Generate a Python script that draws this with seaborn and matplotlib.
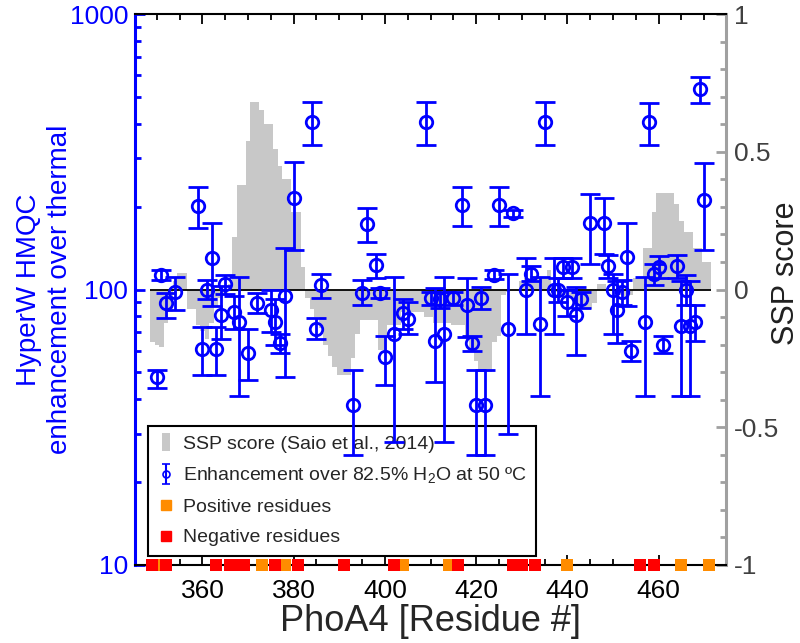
import numpy as np
import matplotlib
matplotlib.use('Agg')
import matplotlib.pyplot as plt
import seaborn as sns
from matplotlib.lines import Line2D
from matplotlib.ticker import MultipleLocator, FixedLocator, NullFormatter

sns.set_theme(style='white')
plt.rcParams['font.family'] = ['Liberation Sans', 'DejaVu Sans']
plt.rcParams['mathtext.fontset'] = 'custom'
plt.rcParams['mathtext.rm'] = 'Liberation Sans'

# SSP score per residue (Saio et al., 2014), residues 349..471
ssp_res = list(range(349, 472))
ssp_score = [
    -0.19, -0.20, -0.21, -0.12, -0.08, 0.03, 0.06, 0.06, -0.07, -0.07,   # 349-358
    -0.13, -0.15, -0.18, -0.12, -0.06, -0.03, -0.02, 0.02, 0.19, 0.38,   # 359-368
    0.38, 0.54, 0.68, 0.68, 0.65, 0.60, 0.60, 0.51, 0.45, 0.40,          # 369-378
    0.40, 0.28, 0.28, 0.08, -0.03, -0.07, -0.10, -0.14, -0.20, -0.24,    # 379-388
    -0.28, -0.31, -0.31, -0.31, -0.25, -0.16, -0.11, -0.11, -0.11, -0.11,  # 389-398
    -0.22, -0.22, -0.13, -0.13, -0.13, -0.08, -0.08, -0.08, -0.08, -0.08,  # 399-408
    -0.10, -0.10, -0.12, -0.12, -0.12, -0.12, -0.13, -0.13, -0.13, -0.18,  # 409-418
    -0.22, -0.26, -0.29, -0.30, -0.30, -0.19, -0.17, -0.02, -0.01, 0.00,   # 419-428
    0.00, 0.03, 0.04, 0.04, 0.04, 0.04, 0.04, 0.07, 0.02, -0.01,          # 429-438
    -0.02, -0.02, -0.03, -0.06, -0.07, -0.07, -0.07, -0.05, 0.02, 0.02,   # 439-448
    0.00, 0.00, -0.02, -0.02, -0.03, -0.02, 0.04, 0.04, 0.15, 0.15,       # 449-458
    0.28, 0.35, 0.35, 0.35, 0.35, 0.31, 0.25, 0.21, 0.21, 0.15,           # 459-468
    0.15, 0.10, 0.10,                                                    # 469-471
]

# HyperW HMQC enhancement over thermal (value, lower end, upper end of error bar)
enh_res = [350, 351, 352, 354, 359, 360, 361, 362, 363, 364, 365, 367, 368, 370,
           372, 375, 376, 377, 378, 380, 384, 385, 386, 393, 395, 396, 398, 399,
           400, 402, 404, 405, 409, 410, 411, 412, 413, 415, 417, 418, 419, 420,
           421, 422, 424, 425, 427, 428, 431, 432, 434, 435, 437, 438, 439, 440,
           441, 442, 443, 445, 448, 449, 450, 451, 452, 453, 454, 457, 458, 459,
           460, 461, 464, 465, 466, 467, 468, 469, 470]
enh_val = [48, 113, 89, 98, 201, 61, 100, 130, 61, 81, 105, 83, 76, 59,
           89, 84, 76, 64, 95, 214, 406, 72, 104, 38, 97, 173, 123, 97,
           57, 69, 82, 78, 406, 93, 65, 92, 69, 93, 203, 88, 64, 38,
           93, 38, 113, 203, 72, 189, 100, 114, 75, 406, 100, 100, 121, 90,
           121, 81, 92, 174, 174, 122, 100, 84, 98, 131, 60, 76, 406, 114,
           121, 63, 122, 74, 100, 74, 76, 533, 212]
enh_lo = [44, 108, 79, 84, 167, 49, 92, 87, 49, 66, 96, 72, 41, 47,
          82, 70, 63, 59, 48, 139, 334, 66, 93, 25, 88, 149, 110, 93,
          45, 28, 72, 69, 334, 88, 46, 86, 28, 88, 170, 67, 60, 25,
          85, 25, 109, 170, 30, 183, 69, 107, 41, 334, 69, 90, 110, 80,
          110, 58, 86, 124, 134, 110, 69, 64, 88, 87, 55, 41, 334, 104,
          110, 59, 110, 41, 88, 41, 65, 476, 139]
enh_hi = [51, 118, 97, 111, 236, 73, 108, 174, 73, 103, 113, 95, 111, 72,
          97, 100, 92, 69, 141, 291, 481, 79, 114, 51, 108, 197, 135, 101,
          68, 111, 92, 90, 481, 98, 101, 98, 111, 98, 236, 110, 68, 51,
          102, 51, 118, 236, 114, 195, 130, 122, 111, 481, 130, 110, 130, 100,
          130, 102, 98, 222, 214, 133, 114, 107, 108, 174, 65, 111, 476, 124,
          132, 68, 133, 107, 113, 107, 88, 589, 288]

# charged residues along the sequence
positive_res = [351, 373, 378, 404, 414, 440, 465, 471]
negative_res = [349, 352, 363, 366, 367, 368, 369, 376, 381, 391, 402, 416,
                428, 430, 433, 456, 459]

blue = '#0000FF'
grey = '#C8C8C8'
orange = '#FF8C00'
red = '#FF0000'

fig = plt.figure(figsize=(8, 6.43), dpi=100)
ax1 = fig.add_axes([135 / 800, 1 - 565 / 643, 591 / 800, 551 / 643])
ax2 = ax1.twinx()
ax1.set_zorder(ax2.get_zorder() + 1)
ax1.patch.set_visible(False)

# SSP score as a filled staircase on the right axis
edges = np.arange(ssp_res[0] - 0.5, ssp_res[-1] + 1.0, 1.0)
ax2.stairs(ssp_score, edges, baseline=0, fill=True, color=grey, lw=0)
ax2.hlines(0, edges[0], edges[-1], color='black', lw=1.3)
ax2.set_ylim(-1, 1)

# enhancement with error bars on the left (log) axis
enh_val_a = np.array(enh_val, dtype=float)
yerr = [enh_val_a - np.array(enh_lo), np.array(enh_hi) - enh_val_a]
ax1.errorbar(enh_res, enh_val_a, yerr=yerr, fmt='o', mfc='none', mec=blue,
             ms=9, mew=2, ecolor=blue, elinewidth=2, capsize=7, capthick=2,
             zorder=3)
ax1.set_yscale('log')
ax1.set_ylim(10, 1000)
ax1.set_xlim(345.2, 474.8)

# residue markers along the bottom axis
sns.scatterplot(x=positive_res, y=[10] * len(positive_res), color=orange,
                marker='s', s=80, linewidth=0, ax=ax1, clip_on=False, zorder=6)
sns.scatterplot(x=negative_res, y=[10] * len(negative_res), color=red,
                marker='s', s=80, linewidth=0, ax=ax1, clip_on=False, zorder=7)

# ticks and spines
ax1.xaxis.set_major_locator(MultipleLocator(20))
ax1.xaxis.set_minor_locator(MultipleLocator(5))
ax1.tick_params(axis='x', which='both', direction='in', top=True, bottom=True,
                colors='black', labelsize=19, pad=10)
ax1.tick_params(axis='x', which='major', length=7, width=1.3)
ax1.tick_params(axis='x', which='minor', length=4, width=1.3)
ax1.yaxis.set_major_locator(FixedLocator([10, 100, 1000]))
ax1.yaxis.set_minor_formatter(NullFormatter())
ax1.tick_params(axis='y', which='both', direction='in', left=True, right=False,
                colors=blue, labelcolor=blue, labelsize=19, pad=5)
ax1.tick_params(axis='y', which='major', length=7, width=2)
ax1.tick_params(axis='y', which='minor', length=4, width=2)
ax1.set_yticklabels(['10', '100', '1000'])

ax2.yaxis.set_major_locator(MultipleLocator(0.5))
ax2.yaxis.set_minor_locator(MultipleLocator(0.1))
ax2.yaxis.set_major_formatter(matplotlib.ticker.FuncFormatter(lambda v, p: f'{v:g}'))
ax2.tick_params(axis='y', which='both', direction='in', colors='#A0A0A0',
                labelcolor='#404040', labelsize=19, pad=6)
ax2.tick_params(axis='y', which='major', length=7, width=2)
ax2.tick_params(axis='y', which='minor', length=4, width=2)

for sp in ['top', 'bottom']:
    ax1.spines[sp].set_color('black')
    ax1.spines[sp].set_linewidth(1.5)
ax1.spines['left'].set_color(blue)
ax1.spines['left'].set_linewidth(2.2)
ax1.spines['right'].set_visible(False)
for sp in ['left', 'top', 'bottom']:
    ax2.spines[sp].set_visible(False)
ax2.spines['right'].set_color('#A0A0A0')
ax2.spines['right'].set_linewidth(2.2)

ax1.set_xlabel('PhoA4 [Residue #]', fontsize=26, labelpad=1)
ax1.set_ylabel('HyperW HMQC\nenhancement over thermal', fontsize=20,
               color=blue, linespacing=1.25)
ax1.yaxis.set_label_coords(-0.105, 0.5)
ax2.set_ylabel('SSP score', fontsize=22, color='#202020', rotation=90)
ax2.yaxis.set_label_coords(1.076, 0.53)

# legend
h_ssp = Line2D([], [], linestyle='none', marker=[(-0.4, -1), (0.4, -1), (0.4, 1), (-0.4, 1)],
               markersize=13, color=grey, markeredgewidth=0)
h_enh = ax1.errorbar([np.nan], [np.nan], yerr=[[1], [1]], fmt='o', mfc='none',
                     mec=blue, ms=5, mew=1.2, ecolor=blue, elinewidth=1.5,
                     capsize=3, capthick=1.5)
h_pos = Line2D([], [], linestyle='none', marker='s', markersize=7, color=orange)
h_neg = Line2D([], [], linestyle='none', marker='s', markersize=7, color=red)
leg = ax1.legend([h_ssp, h_enh, h_pos, h_neg],
                 ['SSP score (Saio et al., 2014)',
                  'Enhancement over 82.5% H$_2$O at 50 \u00baC',
                  'Positive residues', 'Negative residues'],
                 loc='lower left', bbox_to_anchor=(0.022, 0.016, 0.656, 0.234),
                 mode='expand', borderaxespad=0, fontsize=14, frameon=True,
                 fancybox=False, edgecolor='black', framealpha=1,
                 handlelength=0.8, handletextpad=0.5, labelspacing=0.65,
                 borderpad=0.5)
leg.get_frame().set_linewidth(1.5)
leg.set_zorder(2)

fig.savefig('out.png', dpi=100)
